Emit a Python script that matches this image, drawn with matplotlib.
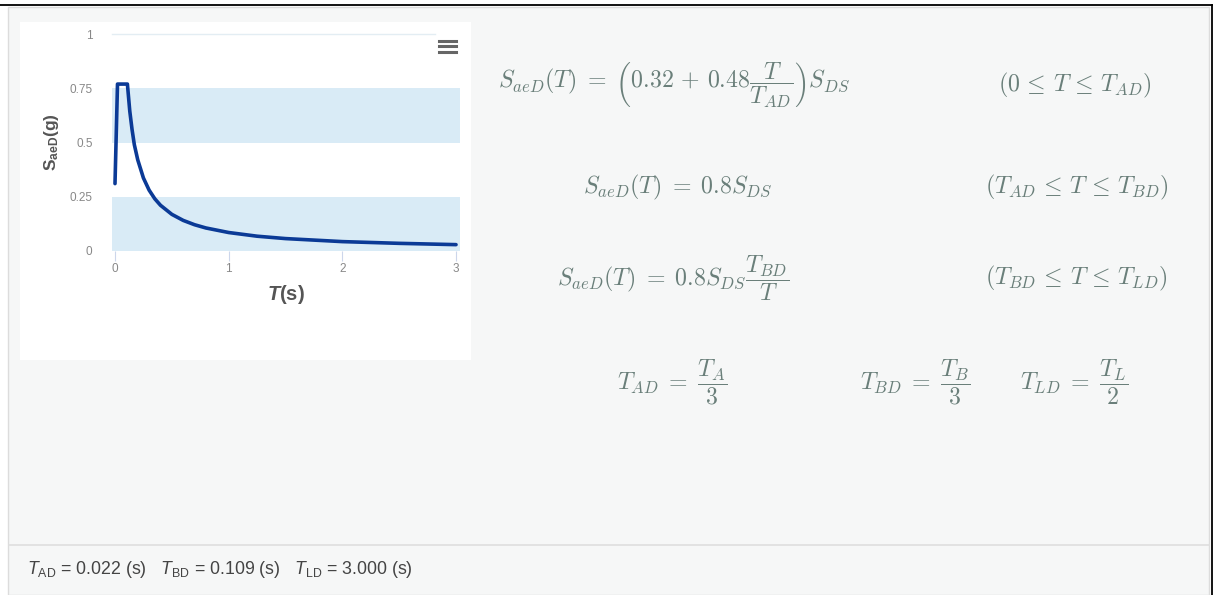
import matplotlib.pyplot as plt
from matplotlib.patches import Rectangle
from matplotlib.lines import Line2D

plt.rcParams['font.family'] = ['Liberation Sans', 'DejaVu Sans']
plt.rcParams['mathtext.fontset'] = 'custom'
plt.rcParams['mathtext.rm'] = 'Liberation Sans'
plt.rcParams['mathtext.it'] = 'Liberation Sans:italic'
plt.rcParams['mathtext.bf'] = 'Liberation Sans:bold'
plt.rcParams['mathtext.bfit'] = 'Liberation Sans:bold:italic'

# spectrum: period T (s) and S_aeD (g)
period = [0.0, 0.022, 0.109, 0.13, 0.15, 0.17, 0.2, 0.25, 0.3, 0.35, 0.4, 0.5,
          0.6, 0.7, 0.8, 1.0, 1.25, 1.5, 2.0, 2.5, 3.0]
s_aed = [0.31, 0.77, 0.77, 0.645, 0.56, 0.49, 0.42, 0.336, 0.28, 0.24, 0.21, 0.168,
         0.14, 0.12, 0.105, 0.084, 0.067, 0.056, 0.042, 0.034, 0.028]
x_ticks = [0, 1, 2, 3]
y_ticks = [0, 0.25, 0.5, 0.75, 1]
y_tick_labels = ['0', '0.25', '0.5', '0.75', '1']
bands = [(0, 0.25), (0.5, 0.75)]
footer_items = [('AD', '0.022'), ('BD', '0.109'), ('LD', '3.000')]

W, H = 1214, 595


def fx(x):
    return x / W


def fy(y):
    return 1 - y / H


fig = plt.figure(figsize=(W / 100, H / 100), dpi=100)
fig.patch.set_facecolor('white')

# page frame
fig.patches.append(Rectangle((fx(8), fy(595)), fx(1209) - fx(8), fy(7) - fy(595),
                             transform=fig.transFigure, facecolor='#f6f7f7',
                             edgecolor='#dcdcdc', lw=1, zorder=-2))
fig.lines.append(Line2D([fx(9), fx(1209)], [fy(545), fy(545)], transform=fig.transFigure,
                        color='#dedede', lw=1.2))
fig.lines.append(Line2D([0, fx(1212)], [fy(5), fy(5)], transform=fig.transFigure,
                        color='black', lw=1.3))
fig.lines.append(Line2D([fx(1212), fx(1212)], [fy(5), 0], transform=fig.transFigure,
                        color='black', lw=1.3))
fig.patches.append(Rectangle((fx(20), fy(360)), fx(471) - fx(20), fy(22) - fy(360),
                             transform=fig.transFigure, facecolor='white',
                             edgecolor='none', zorder=-1))

# chart
x0, x1, y0, y1 = 112, 460, 34.3, 250.7
ax = fig.add_axes([fx(x0), fy(y1), fx(x1) - fx(x0), fy(y0) - fy(y1)])
ax.set_zorder(2)
ax.set_facecolor('none')
ax.set_xlim(-0.0264, 3.035)
ax.set_ylim(0, 1)
for lo, hi in bands:
    ax.axhspan(lo, hi, color='#d9ebf6', lw=0, zorder=0)
ax.axhline(1, xmin=0, xmax=(435 - x0) / (x1 - x0), color='#e3edf3', lw=1, clip_on=False)
ax.plot(period, s_aed, color='#0b3a96', lw=2.6, solid_joinstyle='round',
        solid_capstyle='round', zorder=3)
for s in ax.spines.values():
    s.set_visible(False)
ax.set_xticks(x_ticks)
ax.set_xticklabels([str(t) for t in x_ticks])
ax.set_yticks(y_ticks)
ax.set_yticklabels(y_tick_labels)
ax.tick_params(axis='x', length=7.5, width=0.8, color='#ccd6eb', pad=1,
               labelsize=8.5, labelcolor='#888888')
ax.tick_params(axis='y', length=0, pad=14, labelsize=8.5, labelcolor='#888888')
ax.set_xlabel(r'$\mathbfit{T}$' + '(s)', fontsize=14.5, fontweight='bold',
              color='#555555', labelpad=6)
ax.set_ylabel(r'$\mathbf{S_{aeD}}$' + '(g)', fontsize=12.5, fontweight='bold',
              color='#555555', labelpad=6)

# menu button
for yy in (40.5, 46, 51.5):
    fig.lines.append(Line2D([fx(438.5), fx(456)], [fy(yy), fy(yy)], transform=fig.transFigure,
                            color='#666666', lw=2.2))

# formulas
fcol = '#6a7f7a'
fs = 17.2


def formula(x, y, s, ha='left'):
    fig.text(fx(x), fy(y), s, ha=ha, va='center', fontsize=fs, color=fcol,
             math_fontfamily='cm')


formula(498, 85, r'$S_{aeD}(T)\;=\;\left(0.32\,+\,0.48\dfrac{T}{T_{AD}}\right)S_{DS}$')
formula(998, 85, r'$(0\,\leq\,T\,\leq\,T_{AD})$')
formula(583, 187, r'$S_{aeD}(T)\;=\;0.8S_{DS}$')
formula(985, 187, r'$(T_{AD}\,\leq\,T\,\leq\,T_{BD})$')
formula(557, 278, r'$S_{aeD}(T)\;=\;0.8S_{DS}\dfrac{T_{BD}}{T}$')
formula(985, 278, r'$(T_{BD}\,\leq\,T\,\leq\,T_{LD})$')
formula(617, 382, r'$T_{AD}\;=\;\dfrac{T_A}{3}$')
formula(860, 382, r'$T_{BD}\;=\;\dfrac{T_B}{3}$')
formula(1020, 382, r'$T_{LD}\;=\;\dfrac{T_L}{2}$')

# footer
footer = '   '.join(r'$\mathit{T}_{\mathrm{%s}}$ = %s (s)' % (k, v) for k, v in footer_items)
fig.text(fx(27), fy(570), footer, ha='left', va='center', fontsize=12.8, color='#444444')

fig.savefig('out.png', dpi=100)
